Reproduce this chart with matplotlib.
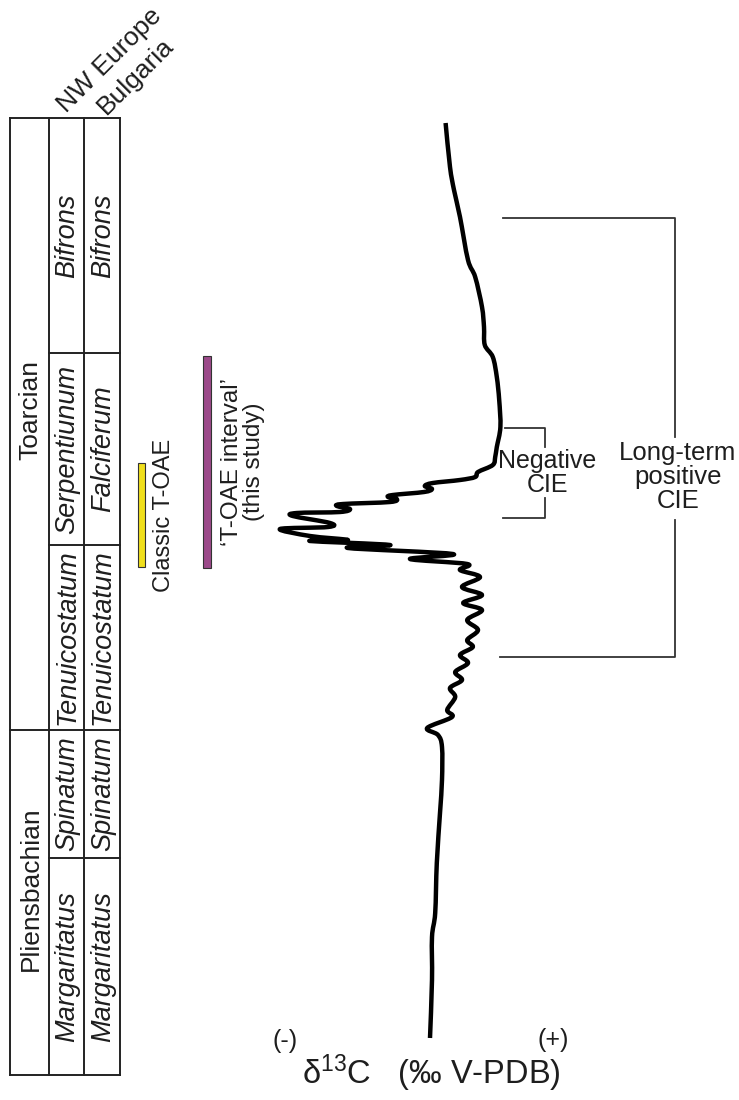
import matplotlib
matplotlib.use("Agg")
import matplotlib.pyplot as plt
import numpy as np
from matplotlib.patches import Rectangle, PathPatch
from matplotlib.path import Path

# carbon isotope curve, relative d13C (per mil) vs stratigraphic height (m)
d13c = [0.64, 0.75, 0.85, 1.00, 1.20, 1.38, 1.55, 1.60, 1.62, 1.82, 1.92, 1.98,
        2.01, 1.92, 1.88, 1.82, 1.45, 1.38, 1.00, 0.32, 0.12, 0.30, 0.10, -0.68,
        -0.80, -0.58, -0.75, -1.92, -2.08, -1.75, -2.00, -3.08, -3.18, -2.25,
        -2.30, -3.50, -2.75, -1.80, -2.75, -0.75, -1.80, 0.82, -0.25, 1.18,
        1.00, 1.50, 1.05, 1.55, 1.08, 1.55, 1.18, 1.45, 1.18, 1.32, 1.00, 1.20,
        0.88, 1.05, 0.75, 0.88, 0.68, 0.80, 0.18, 0.45, 0.55, 0.55, 0.50, 0.42,
        0.38, 0.30, 0.30, 0.25]
height = [92.2, 87.8, 85.5, 82.8, 78.5, 76.8, 73.8, 71.8, 70.0, 68.8, 66.8, 64.5,
          61.8, 59.8, 58.8, 58.0, 57.3, 56.8, 56.5, 56.2, 55.9, 55.6, 55.3, 55.0,
          54.8, 54.6, 54.3, 54.1, 53.9, 53.6, 53.3, 53.2, 52.9, 52.2,
          51.8, 51.6, 50.9, 50.5, 50.4, 50.0, 49.7, 49.1, 48.6, 48.1,
          47.5, 46.8, 45.8, 45.0, 44.2, 43.5, 42.5, 41.5, 40.5, 39.8, 39.0, 38.2,
          37.3, 36.5, 35.7, 34.8, 33.5, 32.8, 31.7, 31.0, 29.8, 26.5, 23.2, 18.2,
          13.2, 10.8, 6.5, 0.7]

stages = ["Toarcian", "Pliensbachian"]
stage_edges = [118, 730, 1075]
zones_nw = ["Bifrons", "Serpentiunum", "Tenuicostatum", "Spinatum", "Margaritatus"]
zones_bg = ["Bifrons", "Falciferum", "Tenuicostatum", "Spinatum", "Margaritatus"]
zone_edges = [118, 353, 545, 730, 858, 1075]
regions = ["NW Europe", "Bulgaria"]

plt.rcParams['font.family'] = ['Liberation Sans', 'DejaVu Sans']
plt.rcParams['mathtext.default'] = 'regular'

fig = plt.figure(figsize=(7.39, 11), dpi=100)
fig.patch.set_facecolor('white')

# layout axes in pixel units
ax = fig.add_axes([0, 0, 1, 1])
ax.set_xlim(0, 739)
ax.set_ylim(1100, 0)
ax.axis('off')

# curve axes (1 per mil = 40 px, 1 m = 10 px)
cax = fig.add_axes([0, 0, 1, 1])
cax.set_xlim(-10.5, 7.975)
cax.set_ylim(-5.5, 104.5)
cax.axis('off')
cax.patch.set_alpha(0)

lc = '#222222'
tc = '#1e1e1e'
tlw = 1.4
cols = [10, 49, 84, 120]

# table frame
for x in cols:
    ax.plot([x, x], [stage_edges[0], stage_edges[-1]], color=lc, lw=tlw)
ax.plot([cols[0], cols[-1]], [stage_edges[0]] * 2, color=lc, lw=tlw)
ax.plot([cols[0], cols[-1]], [stage_edges[-1]] * 2, color=lc, lw=tlw)
for y in stage_edges[1:-1]:
    ax.plot([cols[0], cols[1]], [y, y], color=lc, lw=tlw)
for y in zone_edges[1:-1]:
    ax.plot([cols[1], cols[-1]], [y, y], color=lc, lw=tlw)

for i, s in enumerate(stages):
    yc = (stage_edges[i] + stage_edges[i + 1]) / 2 - 14
    ax.text((cols[0] + cols[1]) / 2 + 1, yc, s, rotation=90, ha='center', va='center',
            fontsize=19, color=tc)
for i in range(len(zones_nw)):
    yc = (zone_edges[i] + zone_edges[i + 1]) / 2
    ax.text((cols[1] + cols[2]) / 2 + 1, yc, zones_nw[i], rotation=90, ha='center',
            va='center', fontsize=19.5, style='italic', color=tc)
    ax.text((cols[2] + cols[3]) / 2 + 1, yc, zones_bg[i], rotation=90, ha='center',
            va='center', fontsize=19.5, style='italic', color=tc)

ax.text(66, 113, regions[0], rotation=45, rotation_mode='anchor', ha='left',
        va='baseline', fontsize=19, color=tc)
ax.text(106, 115, regions[1], rotation=45, rotation_mode='anchor', ha='left',
        va='baseline', fontsize=19, color=tc)

# T-OAE bars
ax.add_patch(Rectangle((138, 463), 7, 104, facecolor='#f0df1c', edgecolor='#333', lw=0.8))
ax.add_patch(Rectangle((203, 356), 8, 212, facecolor='#9c4a8a', edgecolor='#333', lw=0.8))
ax.text(164, 515, "Classic T-OAE", rotation=90, ha='center', va='center',
        fontsize=17, color=tc)
ax.text(243, 462, "\u2018T-OAE interval\u2019\n(this study)", rotation=90, ha='center',
        va='center', multialignment='center', fontsize=17.5, color=tc, linespacing=1.0)

# isotope curve, drawn as a smooth path through the points
pts = np.column_stack([d13c, height])
n = len(pts)
verts = [pts[0]]
codes = [Path.MOVETO]
for i in range(n - 1):
    p0 = pts[max(i - 1, 0)]
    p1 = pts[i]
    p2 = pts[i + 1]
    p3 = pts[min(i + 2, n - 1)]
    verts += [p1 + (p2 - p0) / 6, p2 - (p3 - p1) / 6, p2]
    codes += [Path.CURVE4] * 3
cax.add_patch(PathPatch(Path(verts, codes), facecolor='none', edgecolor='black',
                        lw=3.2, joinstyle='round', capstyle='butt'))

# brackets
blc = '#333333'
ax.plot([503, 675, 675], [218, 218, 437], color=blc, lw=1.3)
ax.plot([675, 675, 500], [520, 657, 657], color=blc, lw=1.3)
ax.text(678, 477, "Long-term\npositive\nCIE", ha='center', va='center', fontsize=18.5,
        color=tc, linespacing=1.0)
ax.plot([505, 545, 545], [428, 428, 447], color=blc, lw=1.3)
ax.plot([545, 545, 503], [498, 518, 518], color=blc, lw=1.3)
ax.text(547, 473, "Negative\nCIE", ha='center', va='center', fontsize=18,
        color=tc, linespacing=1.0)

# axis label
ax.text(285, 1041, "(-)", ha='center', va='center', fontsize=18, color=tc)
ax.text(553, 1040, "(+)", ha='center', va='center', fontsize=18, color=tc)
ax.text(431, 1084, r"δ$^{13}$C   (‰ V-PDB)", ha='center', va='baseline', fontsize=23.5,
        color=tc)

fig.savefig("out.png", dpi=100, facecolor='white')
